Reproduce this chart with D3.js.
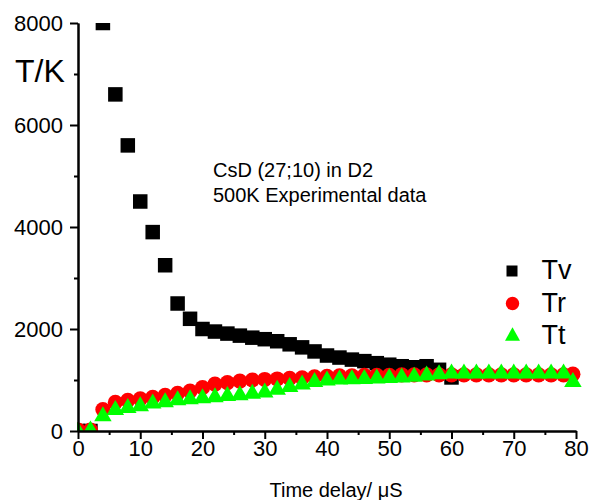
<!DOCTYPE html>
<html>
<head>
<meta charset="utf-8">
<script src="https://cdn.jsdelivr.net/npm/d3@7"></script>
<style>
  html, body { margin: 0; padding: 0; background: #fff; }
  svg { display: block; font-family: "Liberation Sans", Arial, Helvetica, sans-serif; }
</style>
</head>
<body>
<svg id="chart" width="590" height="500"></svg>
<script>
// Time delay (µs) and temperatures (K) for each temperature component
const timeTv = [0, 2, 4, 6, 8, 10, 12, 14, 16, 18, 20, 22, 24, 26, 28, 30, 32, 34, 36, 38, 40,
                42, 44, 46, 48, 50, 52, 54, 56, 58, 60];
const valuesTv = [0, 0, 8000, 6600, 5600, 4500, 3900, 3250, 2500, 2200, 2000, 1950, 1910, 1870, 1830, 1800,
                  1760, 1700, 1640, 1560, 1480, 1440, 1400, 1370, 1330, 1300, 1270, 1250, 1270, 1200, 1050];

const timeTrTt = [0, 2, 4, 6, 8, 10, 12, 14, 16, 18, 20, 22, 24, 26, 28, 30, 32, 34, 36, 38, 40,
                  42, 44, 46, 48, 50, 52, 54, 56, 58, 60, 62, 64, 66, 68, 70, 72, 74, 76, 78, 79.5];
const valuesTr = [20, 20, 420, 560, 600, 630, 660, 700, 740, 780, 850, 920, 950, 980, 1000, 1010,
                  1020, 1030, 1040, 1060, 1070, 1080, 1080, 1090, 1090, 1090, 1100, 1100, 1100, 1100, 1100,
                  1100, 1100, 1100, 1100, 1100, 1100, 1100, 1100, 1100, 1115];
const valuesTt = [40, 60, 340, 460, 500, 535, 590, 615, 650, 670, 690, 710, 735, 750, 780, 805,
                  860, 910, 960, 1010, 1040, 1060, 1065, 1070, 1080, 1090, 1100, 1115, 1135, 1160, 1175,
                  1175, 1175, 1175, 1175, 1175, 1175, 1175, 1175, 1175, 1010];

const xTicks = [0, 10, 20, 30, 40, 50, 60, 70, 80];
const xMinorTicks = [5, 15, 25, 35, 45, 55, 65, 75];
const yTicks = [0, 2000, 4000, 6000, 8000];
const yMinorTicks = [1000, 3000, 5000, 7000];

const seriesNames = ["Tv", "Tr", "Tt"];
const seriesColors = ["#000000", "#ff0000", "#00ff00"];

const svg = d3.select("#chart");

const x = d3.scaleLinear().domain([0, 80]).range([78, 576]);
const y = d3.scaleLinear().domain([0, 8000]).range([431, 23]);

// clip markers to the plotting area
svg.append("defs").append("clipPath").attr("id", "plotClip")
  .append("rect").attr("x", 77).attr("y", y(8000)).attr("width", 513).attr("height", y(0) - y(8000));

const plot = svg.append("g").attr("clip-path", "url(#plotClip)");

const sq = 14.5, rad = 7.6, triW = 17.5, triH = 15;
const triPath = (w, h) => `M0,${-h / 2}L${w / 2},${h / 2}L${-w / 2},${h / 2}Z`;

// Tv: squares
plot.append("g").selectAll("rect")
  .data(d3.zip(timeTv, valuesTv))
  .join("rect")
  .attr("x", d => x(d[0]) - sq / 2)
  .attr("y", d => y(d[1]) - sq / 2)
  .attr("width", sq).attr("height", sq)
  .attr("fill", seriesColors[0]);

// Tr: circles
plot.append("g").selectAll("circle")
  .data(d3.zip(timeTrTt, valuesTr))
  .join("circle")
  .attr("cx", d => x(d[0]))
  .attr("cy", d => y(d[1]))
  .attr("r", rad)
  .attr("fill", seriesColors[1]);

// Tt: triangles
plot.append("g").selectAll("path")
  .data(d3.zip(timeTrTt, valuesTt))
  .join("path")
  .attr("transform", d => `translate(${x(d[0])},${y(d[1])})`)
  .attr("d", triPath(triW, triH))
  .attr("fill", seriesColors[2]);

// axes
const axisStyle = g => {
  g.selectAll("path.domain").attr("stroke", "#000").attr("stroke-width", 2);
  g.selectAll(".tick line").attr("stroke", "#000").attr("stroke-width", 2);
  g.selectAll(".tick text").attr("fill", "#000").style("font-size", "22px")
    .style("font-family", "'Liberation Sans', Arial, sans-serif");
};

svg.append("g")
  .attr("transform", `translate(${x(0)},0)`)
  .call(d3.axisLeft(y).tickValues(yMinorTicks).tickSize(4).tickSizeOuter(0).tickFormat(""))
  .call(axisStyle);
svg.append("g")
  .attr("transform", `translate(${x(0)},0)`)
  .call(d3.axisLeft(y).tickValues(yTicks).tickSize(8).tickSizeOuter(0).tickPadding(7).tickFormat(d3.format("d")))
  .call(axisStyle);

svg.append("g")
  .attr("transform", `translate(0,${y(0)})`)
  .call(d3.axisBottom(x).tickValues(xMinorTicks).tickSize(4).tickSizeOuter(0).tickFormat(""))
  .call(axisStyle);
svg.append("g")
  .attr("transform", `translate(0,${y(0)})`)
  .call(d3.axisBottom(x).tickValues(xTicks).tickSize(8).tickSizeOuter(0).tickPadding(1).tickFormat(d3.format("d")))
  .call(axisStyle);

// axis titles
svg.append("text").attr("x", 15).attr("y", 82)
  .style("font-size", "32px").text("T/K");
svg.append("text").attr("x", 336).attr("y", 497).attr("text-anchor", "middle")
  .style("font-size", "20px").text("Time delay/ μS");

// annotation
svg.append("text").attr("x", 213).attr("y", 177).style("font-size", "20px").text("CsD (27;10) in D2");
svg.append("text").attr("x", 213).attr("y", 202).style("font-size", "20px").text("500K Experimental data");

// legend
const legend = svg.append("g");
const legendY = [271, 303.5, 334];
const legendTextY = [279, 312, 344];
legend.append("rect").attr("x", 512 - 5.5).attr("y", legendY[0] - 5.5)
  .attr("width", 11).attr("height", 11).attr("fill", seriesColors[0]);
legend.append("circle").attr("cx", 512.5).attr("cy", legendY[1]).attr("r", 6.7).attr("fill", seriesColors[1]);
legend.append("path").attr("transform", `translate(512.5,${legendY[2]})`)
  .attr("d", triPath(15, 13.3)).attr("fill", seriesColors[2]);
legend.selectAll("text.lbl").data(seriesNames).join("text")
  .attr("class", "lbl")
  .attr("x", 541.5).attr("y", (d, i) => legendTextY[i])
  .style("font-size", "27px").text(d => d);
</script>
</body>
</html>
